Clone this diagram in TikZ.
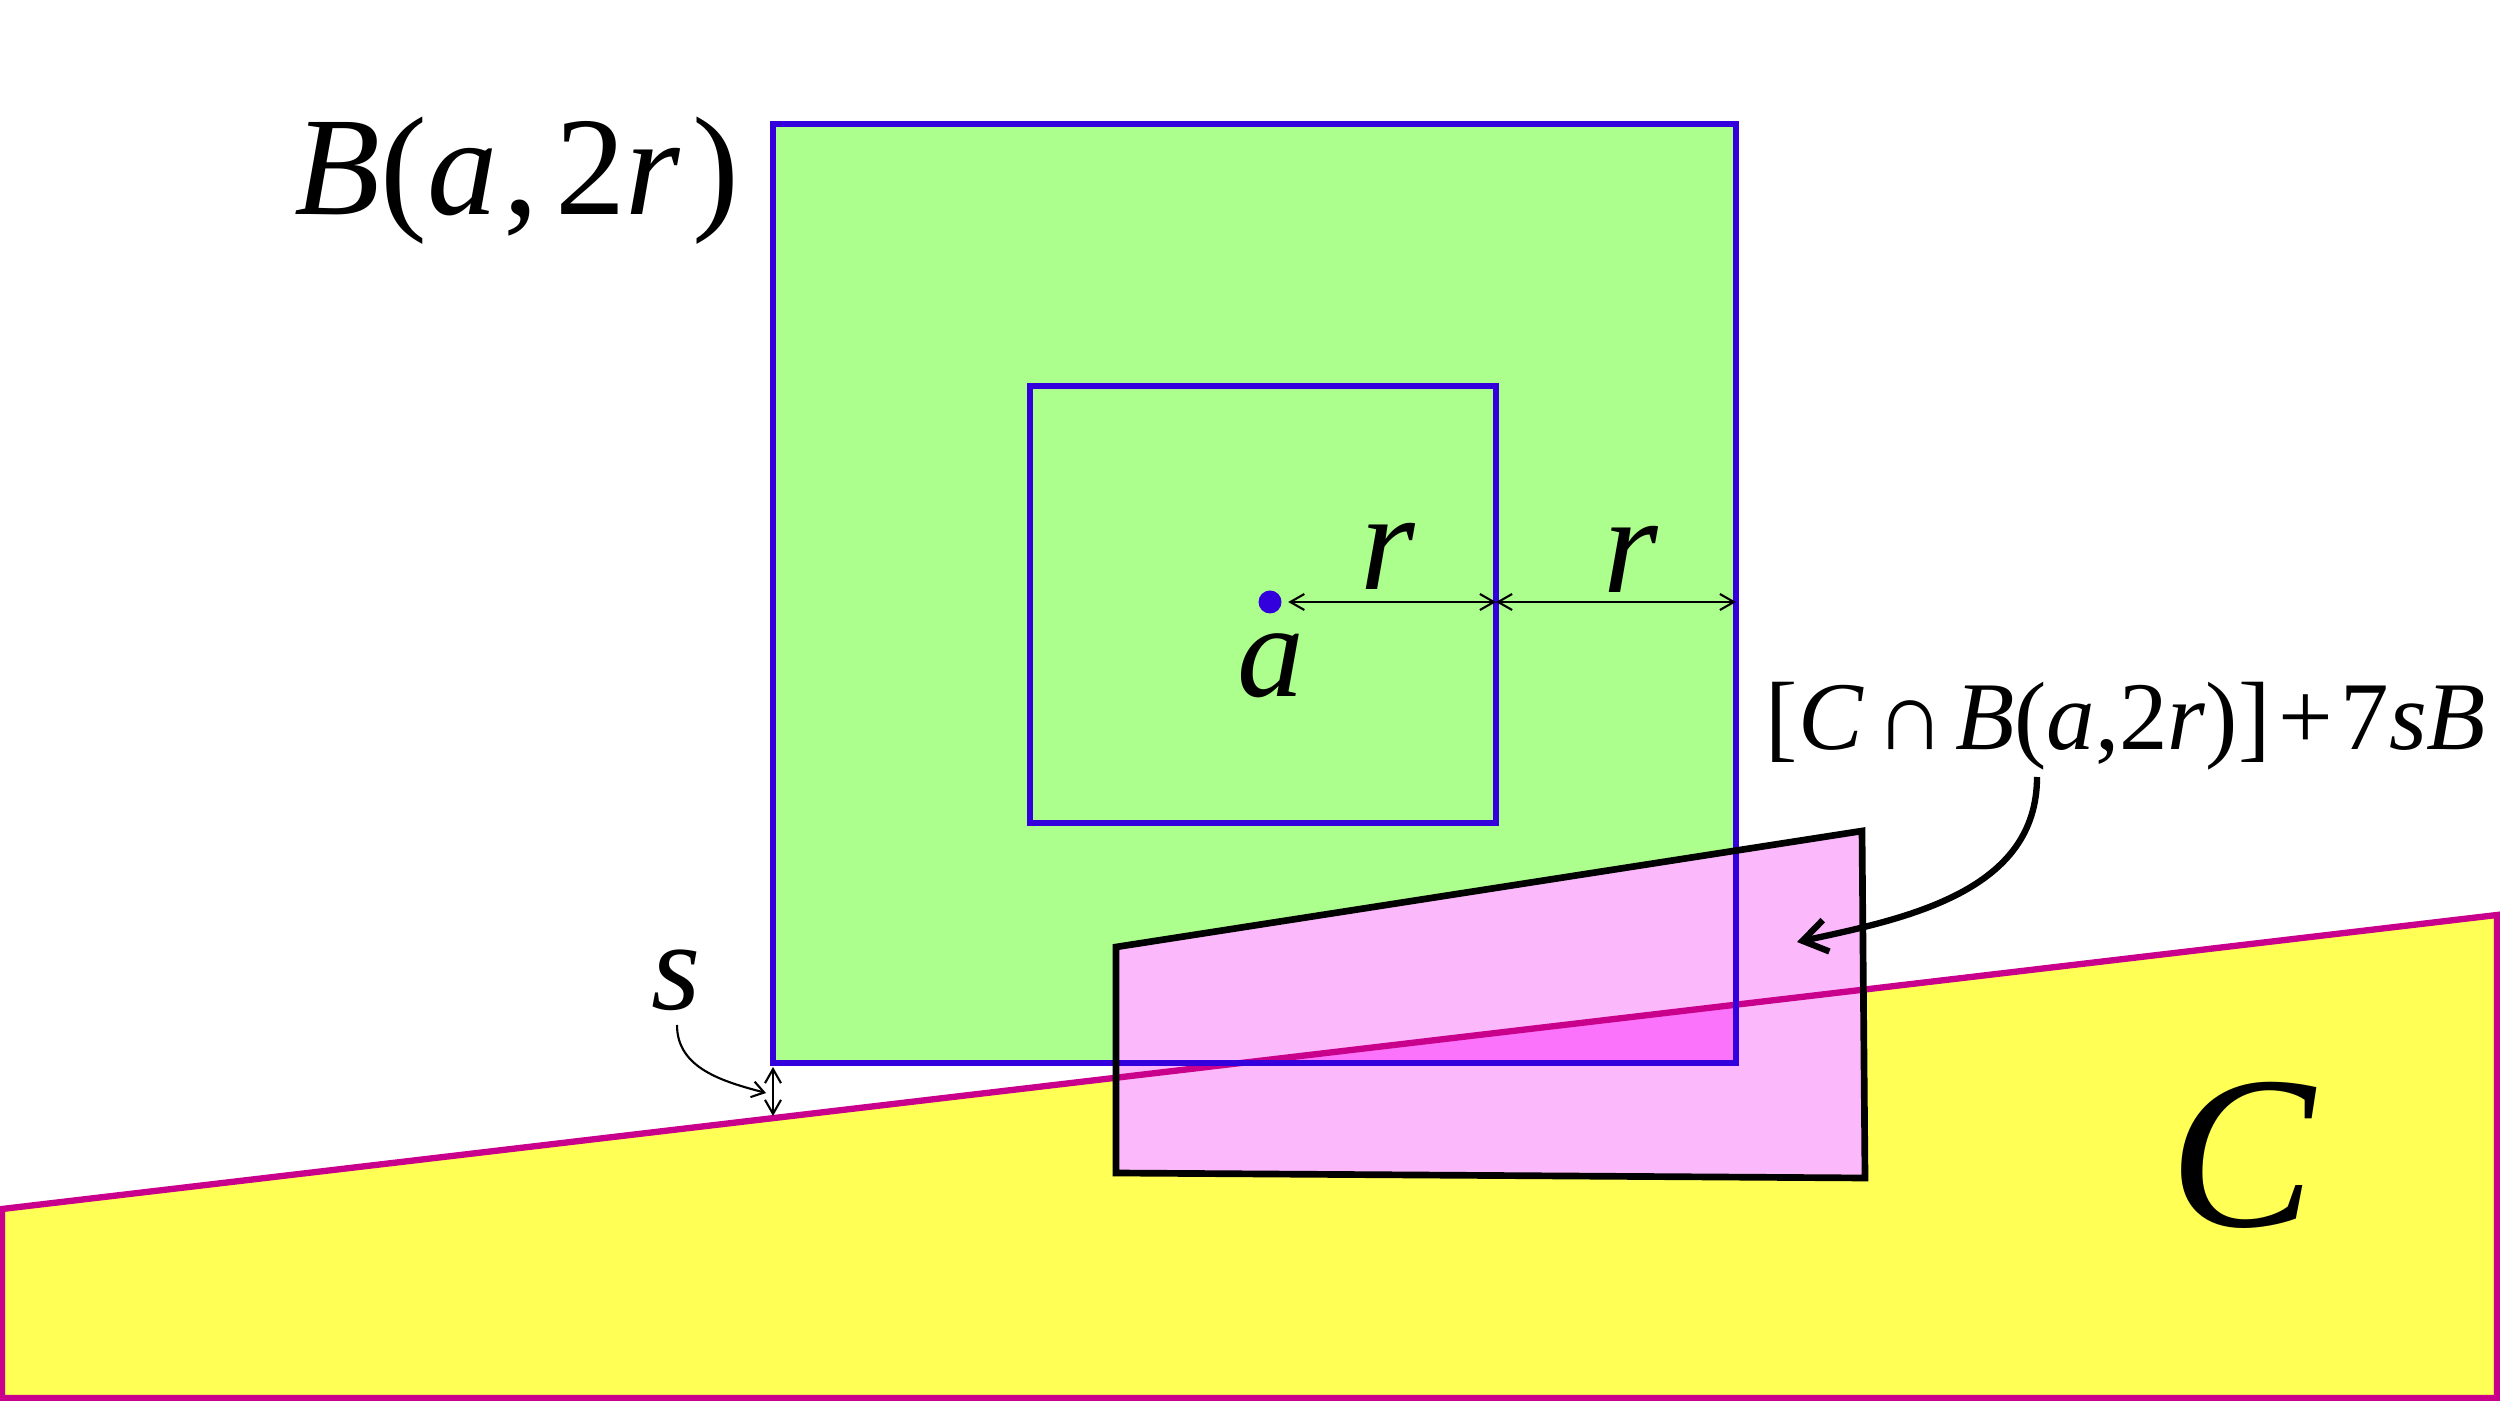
\documentclass[tikz,border=0pt]{standalone}
\usepackage{fontspec}
\setmainfont{Liberation Serif}
\usepackage{tikz}
\usetikzlibrary{arrows.meta}
\definecolor{ballgreen}{RGB}{172,255,140}
\definecolor{ballblue}{RGB}{51,0,221}
\definecolor{setyellow}{RGB}{255,255,85}
\definecolor{setborder}{RGB}{200,0,140}
\definecolor{hullpink}{RGB}{251,185,251}
\definecolor{cappink}{RGB}{250,115,250}

\begin{document}
\begin{tikzpicture}[line join=miter]
  \tikzstyle{lbl}=[inner sep=0pt, anchor=base]
  \tikzstyle{boxline}=[draw=ballblue, line width=1.5pt]
  \tikzstyle{thin}=[line width=0.6pt, {Straight Barb[length=1.4mm,width=1.6mm]}-{Straight Barb[length=1.4mm,width=1.6mm]}]
  \tikzstyle{dot}=[circle, fill=ballblue, inner sep=0pt, minimum size=2.3mm]
  \useasboundingbox (0,0) rectangle (25,14);
  \fill[white] (0,0) rectangle (25,14);

  % corners of C, the big ball, the small ball and the hull
  \coordinate (C1) at (0.02,0.02);
  \coordinate (C2) at (24.97,0.02);
  \coordinate (C3) at (24.97,4.85);
  \coordinate (C4) at (0.02,1.91);
  \coordinate (Bsw) at (7.73,3.37);
  \coordinate (Bne) at (17.36,12.76);
  \coordinate (bsw) at (10.30,5.77);
  \coordinate (bne) at (14.96,10.14);
  \coordinate (H1) at (11.16,4.53);
  \coordinate (H2) at (18.62,5.69);
  \coordinate (H3) at (18.65,2.22);
  \coordinate (H4) at (11.16,2.27);

  % fills
  \fill[setyellow] (C1) -- (C2) -- (C3) -- (C4) -- cycle;
  \fill[ballgreen] (Bsw) rectangle (Bne);
  \fill[hullpink] (H1) -- (H2) -- (H3) -- (H4) -- cycle;
  \begin{scope}
    \clip (Bsw) rectangle (Bne);
    \fill[cappink] (C1) -- (C2) -- (C3) -- (C4) -- cycle;
  \end{scope}

  % outlines
  \draw[setborder, line width=1.8pt] (C1) -- (C2) -- (C3) -- (C4) -- cycle;
  \draw[boxline] (Bsw) rectangle (Bne);
  \draw[boxline] (bsw) rectangle (bne);
  \draw[line width=1.9pt] (H1) -- (H2) -- (H3) -- (H4) -- cycle;

  % centre and radii
  \node[dot] (a) at (12.70,7.98) {};
  \coordinate (ain) at (14.96,7.98);
  \coordinate (aout) at (17.36,7.98);
  \draw[thin, shorten <=0.6mm] (a.east) -- (ain);
  \draw[thin] (ain) -- (aout);
  \node[lbl, font=\fontsize{40}{48}\selectfont\itshape] (r1) at (13.88,8.10) {r};
  \node[lbl, font=\fontsize{40}{48}\selectfont\itshape] (r2) at (16.31,8.07) {r};
  \node[lbl, font=\fontsize{38}{46}\selectfont\itshape] (alab) at (12.71,7.03) {a};

  % labels
  \node[lbl, font=\fontsize{40}{48}\selectfont] (Blab) at (5.17,11.85)
    {\textit{B}(\textit{a}\kern0.04em,\kern0.12em2\textit{r}\kern0.08em)};
  \node[lbl, font=\fontsize{62}{72}\selectfont\itshape] (Clab) at (22.42,1.73) {C};
  \node[lbl, anchor=base west, font=\fontsize{27.6}{33}\selectfont] (hull) at (17.65,6.50)
    {[\textit{C}\kern0.12em∩\kern0.1em\textit{B}(\textit{a},2\textit{r})]\kern0.08em+\kern0.08em7\textit{sB}};
  \coordinate (hullfoot) at (20.37,6.23);
  \coordinate (hulltip) at (17.97,4.58);
  \draw[line width=1.8pt, -{Straight Barb[length=2.4mm,width=3.2mm]}]
    (hullfoot) to[out=-90, in=12] (hulltip);

  % the gap s
  \node[lbl, font=\fontsize{36}{44}\selectfont\itshape] (slab) at (6.76,3.90) {s};
  \coordinate (gaptop) at (7.73,3.33);
  \coordinate (gapbot) at (7.73,2.84);
  \draw[thin] (gaptop) -- (gapbot);
  \coordinate (sfoot) at (6.77,3.75);
  \coordinate (stip) at (7.66,3.07);
  \draw[line width=0.6pt, -{Straight Barb[length=1.2mm,width=1.6mm]}]
    (sfoot) to[out=-90, in=165] (stip);
\end{tikzpicture}
\end{document}
